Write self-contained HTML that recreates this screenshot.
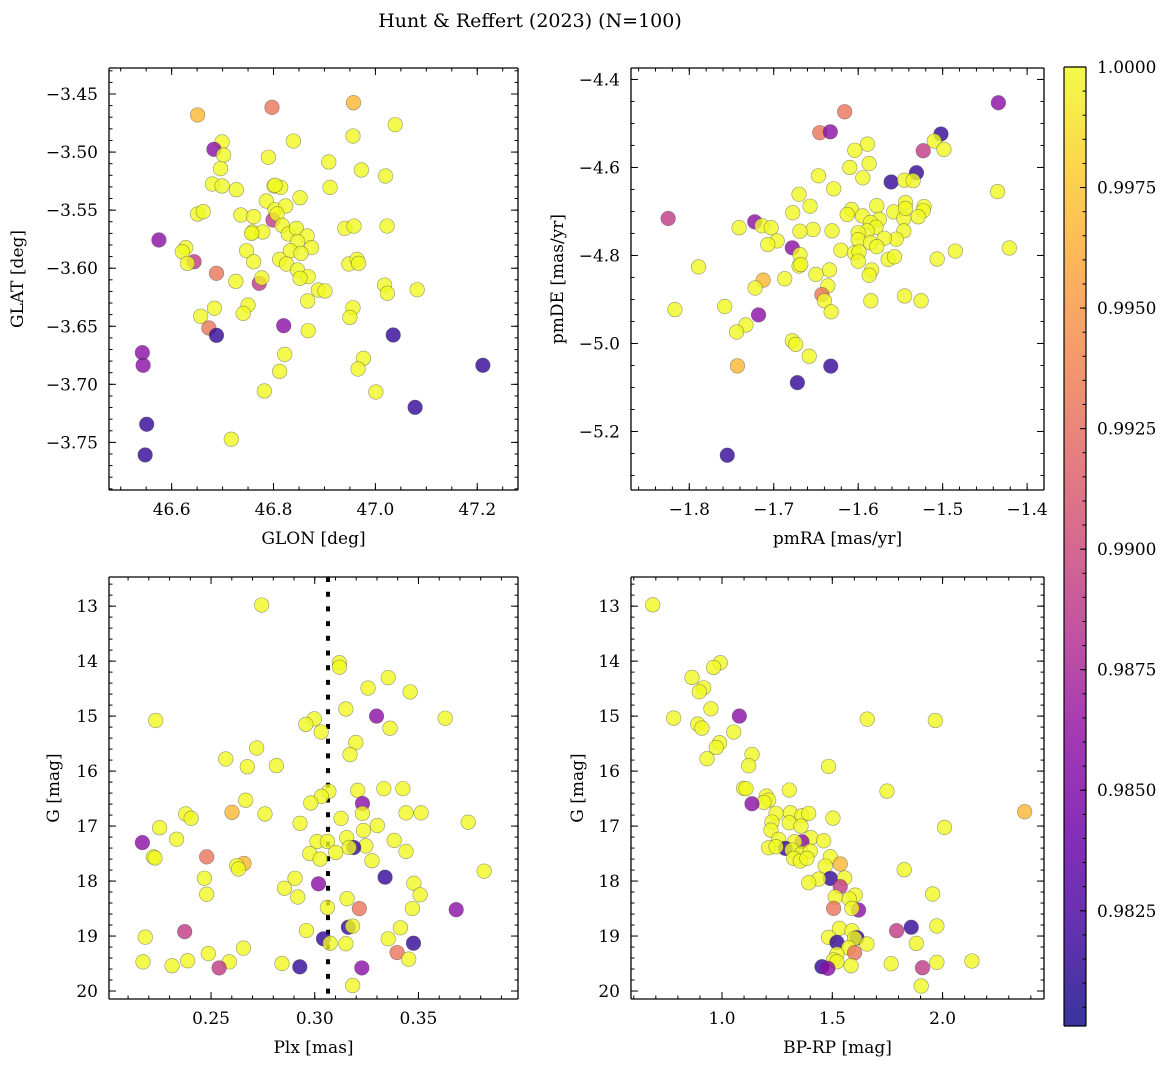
<!DOCTYPE html>
<html><head><meta charset="utf-8"><style>
html,body{margin:0;padding:0;background:#fff}
svg text{font-family:"DejaVu Serif","Liberation Serif",serif;fill:#000}
</style></head><body>
<svg id="fig" width="1173" height="1067" viewBox="0 0 1173 1067" xmlns="http://www.w3.org/2000/svg">
<defs id="defs"></defs>
<rect width="1173" height="1067" fill="#fff"/>
<text x="530" y="27" font-size="19" text-anchor="middle">Hunt &amp; Reffert (2023) (N=100)</text>
</svg>
<script>
// ---- Panel 1: GLON vs GLAT ----
const glon=[46.651,46.797,46.957,47.039,46.956,46.839,46.699,46.683,46.702,46.790,46.9085,46.696,46.9725,47.020,46.680,46.699,46.727,46.801,46.814,46.803,46.786,46.852,46.911,46.803,46.824,46.799,46.807,46.651,46.662,46.736,46.761,46.817,46.829,46.845,46.759,46.779,46.757,46.940,46.958,47.023,46.575,46.866,46.847,46.8745,46.6275,46.621,46.747,46.833,46.854,46.812,46.8255,46.761,46.644,46.631,46.948,46.964,46.967,46.847,46.868,46.852,46.688,46.726,46.772,46.777,46.888,46.901,47.018,47.0235,47.082,46.867,46.750,46.7405,46.684,46.657,46.956,46.950,46.820,46.868,46.673,46.688,47.035,46.5425,46.544,46.822,46.9765,46.966,46.812,47.211,46.782,47.001,47.078,46.551,46.717,46.548];
const glat=[-3.468,-3.4615,-3.4575,-3.4764,-3.4862,-3.4905,-3.4913,-3.4976,-3.5025,-3.5045,-3.5085,-3.5143,-3.5154,-3.5206,-3.5275,-3.5292,-3.5324,-3.5292,-3.5304,-3.5286,-3.5421,-3.5393,-3.5304,-3.5496,-3.5464,-3.5585,-3.5533,-3.5533,-3.5513,-3.5542,-3.5556,-3.5631,-3.5705,-3.5657,-3.5688,-3.5688,-3.57,-3.5657,-3.5637,-3.5637,-3.5757,-3.5723,-3.5771,-3.5823,-3.5823,-3.5858,-3.5849,-3.585,-3.5872,-3.5924,-3.5964,-3.5944,-3.5944,-3.5958,-3.5964,-3.5924,-3.5958,-3.6015,-3.6073,-3.6087,-3.6044,-3.6113,-3.613,-3.6084,-3.6188,-3.6196,-3.6145,-3.6216,-3.6185,-3.6282,-3.6317,-3.6389,-3.6345,-3.6414,-3.634,-3.6423,-3.6495,-3.6538,-3.6515,-3.6578,-3.6575,-3.6727,-3.6836,-3.6742,-3.6776,-3.6868,-3.6888,-3.6836,-3.7057,-3.7066,-3.7198,-3.7344,-3.7473,-3.7608];
const prob1=[.9968,.993,.9968,1,1,1,1,.9858,1,1, 1,1,1,1,1,1,1,1,1,1, 1,1,1,1,1,.989,1,1,1,1, 1,1,1,1,1,1,1,1,1,1, .9858,1,1,1,1,1,1,1,1,1, 1,1,.989,1,1,1,1,1,1,1, .993,1,.989,1,1,1,1,1,1,1, 1,1,1,1,1,1,.9858,1,.993,.9815, .9815,.9858,.9858,1,1,1,1,.9815,1,1, .9815,.9815,1,.9815];
const p1xTicks=[46.6,46.8,47.0,47.2];
const p1yTicks=[-3.45,-3.50,-3.55,-3.60,-3.65,-3.70,-3.75];
// ---- Panel 2: pmRA vs pmDE ----
const pmra=[-1.434,-1.502,-1.616,-1.6455,-1.633,-1.510,-1.4985,-1.523,-1.589,-1.604,-1.587,-1.610,-1.5945,-1.647,-1.629,-1.531,-1.561,-1.545,-1.535,-1.435,-1.670,-1.657,-1.6775,-1.578,-1.544,-1.522,-1.523,-1.529,-1.558,-1.546,-1.544,-1.608,-1.613,-1.595,-1.575,-1.5855,-1.579,-1.546,-1.555,-1.569,-1.5895,-1.600,-1.600,-1.5855,-1.578,-1.6535,-1.631,-1.669,-1.825,-1.7225,-1.714,-1.703,-1.741,-1.696,-1.707,-1.678,-1.669,-1.6205,-1.6045,-1.599,-1.600,-1.5645,-1.557,-1.5065,-1.485,-1.421,-1.670,-1.668,-1.789,-1.634,-1.650,-1.584,-1.587,-1.687,-1.7125,-1.722,-1.636,-1.643,-1.640,-1.632,-1.545,-1.5255,-1.585,-1.817,-1.758,-1.733,-1.744,-1.718,-1.678,-1.674,-1.658,-1.743,-1.6325,-1.672,-1.755];
const pmde=[-4.453,-4.524,-4.4735,-4.521,-4.519,-4.540,-4.559,-4.562,-4.547,-4.561,-4.591,-4.600,-4.6235,-4.619,-4.6485,-4.612,-4.633,-4.629,-4.630,-4.655,-4.661,-4.688,-4.703,-4.687,-4.680,-4.689,-4.6985,-4.712,-4.701,-4.716,-4.693,-4.6955,-4.707,-4.710,-4.718,-4.725,-4.736,-4.744,-4.763,-4.761,-4.744,-4.7485,-4.764,-4.771,-4.780,-4.741,-4.744,-4.745,-4.716,-4.7235,-4.7325,-4.737,-4.737,-4.767,-4.775,-4.7826,-4.798,-4.788,-4.794,-4.792,-4.813,-4.809,-4.803,-4.808,-4.790,-4.783,-4.824,-4.8205,-4.826,-4.833,-4.843,-4.833,-4.845,-4.853,-4.856,-4.874,-4.869,-4.889,-4.903,-4.928,-4.892,-4.903,-4.903,-4.923,-4.916,-4.958,-4.974,-4.935,-4.994,-5.002,-5.029,-5.051,-5.0515,-5.089,-5.254];
const prob2=[.9858,.9815,.993,.993,.9858,1,1,.989,1,1, 1,1,1,1,1,.9815,.9815,1,1,1, 1,1,1,1,1,1,1,1,1,1, 1,1,1,1,1,1,1,1,1,1, 1,1,1,1,1,1,1,1,.989,.9858, 1,1,1,1,1,.9858,1,1,1,1, 1,1,1,1,1,1,1,1,1,1, 1,1,1,1,.9968,1,1,.993,1,1, 1,1,1,1,1,1,1,.9858,1,1, 1,.9968,.9815,.9815,.9815];
const p2xTicks=[-1.8,-1.7,-1.6,-1.5,-1.4];
const p2yTicks=[-4.4,-4.6,-4.8,-5.0,-5.2];
// ---- Panel 3: Plx vs G ----
const plx=[0.2744,0.3119,0.3119,0.3354,0.3257,0.346,0.315,0.3298,0.3629,0.2233,0.2998,0.2957,0.3031,0.3363,0.3198,0.317,0.272,0.2571,0.2675,0.2815,0.3333,0.3425,0.3207,0.3068,0.3032,0.2981,0.2667,0.323,0.323,0.344,0.3513,0.2601,0.2378,0.2404,0.276,0.3127,0.374,0.2929,0.3302,0.2252,0.3235,0.3154,0.3011,0.3061,0.3383,0.2334,0.2169,0.3246,0.3188,0.3166,0.344,0.3101,0.2976,0.3026,0.2222,0.223,0.2479,0.3276,0.2659,0.2624,0.2632,0.3817,0.3339,0.2905,0.2468,0.3018,0.3478,0.2854,0.2479,0.2918,0.3508,0.3156,0.3061,0.3215,0.3471,0.3682,0.3162,0.3182,0.3413,0.2373,0.296,0.2183,0.3042,0.3074,0.315,0.3354,0.3476,0.2487,0.2656,0.3397,0.3453,0.2172,0.2312,0.2387,0.2588,0.2539,0.2842,0.2928,0.3227,0.3183];
const gmag3=[12.98,14.03,14.11,14.30,14.49,14.56,14.87,15.0,15.04,15.08,15.05,15.15,15.29,15.22,15.48,15.7,15.58,15.78,15.92,15.9,16.32,16.32,16.35,16.37,16.46,16.58,16.53,16.59,16.77,16.76,16.76,16.75,16.78,16.86,16.78,16.86,16.93,16.95,16.99,17.03,17.08,17.21,17.28,17.28,17.26,17.24,17.30,17.36,17.39,17.39,17.46,17.48,17.5,17.6,17.56,17.58,17.56,17.63,17.68,17.72,17.78,17.82,17.93,17.95,17.95,18.05,18.04,18.13,18.24,18.29,18.25,18.32,18.48,18.5,18.5,18.52,18.84,18.82,18.85,18.92,18.9,19.02,19.05,19.13,19.14,19.05,19.13,19.32,19.22,19.3,19.42,19.47,19.54,19.45,19.47,19.58,19.5,19.56,19.58,19.9];
const prob3=[1,1,1,1,1,1,1,.9858,1,1, 1,1,1,1,1,1,1,1,1,1, 1,1,1,1,1,1,1,.9858,1,1, 1,.9968,1,1,1,1,1,1,1,1, 1,1,1,1,1,1,.9858,1,.9815,1, 1,1,1,1,1,1,.993,1,.9968,1, 1,1,.9815,1,1,.9858,1,1,1,1, 1,1,1,.993,1,.9858,.9815,1,1,.989, 1,1,.9815,1,1,1,.9815,1,1,.993, 1,1,1,1,1,.989,1,.9815,.9858,1];
const meanPlx=[0.3064];
const p3xTicks=[0.25,0.30,0.35];
const gTicks=[13,14,15,16,17,18,19,20];
// ---- Panel 4: BP-RP vs G ----
const bprp=[0.686,0.992,0.962,0.864,0.917,0.897,0.950,0.781,1.0786,1.6586,1.967,0.890,0.909,1.053,0.989,0.974,0.932,1.136,1.121,1.483,1.098,1.109,1.305,1.748,1.201,1.2115,1.190,1.136,1.245,1.310,1.3625,1.393,1.503,2.372,1.2266,1.305,1.358,2.009,1.222,1.257,1.403,1.461,1.3625,1.329,1.287,1.2115,1.245,1.317,1.3625,1.400,1.325,1.355,1.385,1.491,1.536,1.468,1.826,1.491,1.438,1.393,1.556,1.536,1.955,1.5136,1.604,1.577,1.506,1.619,1.589,1.532,1.858,1.7916,1.974,1.589,1.612,1.601,1.483,1.521,1.657,1.881,1.574,1.601,1.521,1.506,1.521,1.453,1.480,1.585,1.767,1.909,1.974,2.133,1.903];
const gmag4=[12.976,14.03,14.115,14.297,14.485,14.558,14.867,15.036,15.0,15.055,15.079,15.145,15.218,15.29,15.485,15.57,15.776,15.697,15.903,15.915,16.315,16.32,16.345,16.364,16.455,16.527,16.57,16.594,16.77,16.758,16.812,16.77,16.855,16.74,16.927,16.94,17.0,17.024,17.073,17.242,17.212,17.267,17.285,17.285,17.406,17.394,17.376,17.436,17.497,17.455,17.588,17.636,17.588,17.558,17.69,17.727,17.794,17.952,17.964,18.03,17.945,18.103,18.236,18.29,18.255,18.327,18.497,18.527,18.497,18.86,18.84,18.903,18.818,18.903,19.03,19.042,19.024,19.115,19.145,19.133,19.212,19.303,19.327,19.436,19.467,19.558,19.588,19.54,19.503,19.576,19.479,19.455,19.909];
const prob4=[1,1,1,1,1,1,1,1,.9858,1, 1,1,1,1,1,1,1,1,1,1, 1,1,1,1,1,1,1,.9858,1,1, 1,1,1,.9968,1,1,1,1,1,1, 1,1,.9858,1,.9815,1,1,1,1,1, 1,1,1,1,.9968,1,1,.9815,1,1, 1,.989,1,1,1,1,.993,.9858,1,1, .9815,.989,1,1,.9815,1,1,.9815,1,1, 1,.993,1,1,1,.9815,.9858,1,1,.989, 1,1,1];
const p4xTicks=[1.0,1.5,2.0];
// ---- Colorbar ----
const cbTicks=[0.9825,0.9850,0.9875,0.9900,0.9925,0.9950,0.9975,1.0000];
const cbRange=[0.98011,1.0];

const NS='http://www.w3.org/2000/svg';
const svg=document.getElementById('fig');
const defs=document.getElementById('defs');
function mk(tag,attrs,parent){const e=document.createElementNS(NS,tag);for(const k in attrs)e.setAttribute(k,String(attrs[k]));(parent||svg).appendChild(e);return e;}
function ln(x1,y1,x2,y2,w,parent){return mk('line',{x1:x1,y1:y1,x2:x2,y2:y2,stroke:'#000','stroke-width':w},parent);}
const stops=['#0d0887','#41049d','#6a00a8','#8f0da4','#b12a90','#cc4778','#e16462','#f2844b','#fca636','#fcce25','#f0f921'];
function hex(h){return [parseInt(h.slice(1,3),16),parseInt(h.slice(3,5),16),parseInt(h.slice(5,7),16)];}
function plasma(t){t=Math.max(0,Math.min(1,t));const f=t*10,i=Math.min(9,Math.floor(f)),u=f-i;const a=hex(stops[i]),b=hex(stops[i+1]);return 'rgb('+a.map((v,k)=>Math.round(v+(b[k]-v)*u)).join(',')+')';}
function cval(p){return plasma((p-cbRange[0])/(cbRange[1]-cbRange[0]));}
function fmt(v,d){const s=Math.abs(v).toFixed(d);return (v<-1e-9?'\u2212':'')+s;}

function panel(o){
  const g=mk('g',{});
  
  
  const L=o.box[0],T=o.box[1],R=o.box[2],B=o.box[3];
  const sx=v=>L+(v-o.xlim[0])/(o.xlim[1]-o.xlim[0])*(R-L);
  const sy=v=>T+(v-o.ylim[0])/(o.ylim[1]-o.ylim[0])*(B-T);
  const clip='clip-'+o.name;
  const cp=mk('clipPath',{id:clip},defs);mk('rect',{x:L,y:T,width:R-L,height:B-T},cp);
  const pts=mk('g',{'clip-path':'url(#'+clip+')'},g);
  
  
  if(o.vline){const vl=mk('line',{x1:sx(o.vline),x2:sx(o.vline),y1:T,y2:B,stroke:'#000','stroke-width':4,'stroke-dasharray':'5 9.7'},pts);
    
    }
  for(let i=0;i<o.x.length;i++){
    const c=mk('circle',{cx:sx(o.x[i]),cy:sy(o.y[i]),r:7.3,fill:cval(o.c[i]),'fill-opacity':0.8,stroke:'rgba(70,70,70,0.55)','stroke-width':0.6},pts);
    
    
  }
  const tk=mk('g',{},g);
  const xlo=Math.min(o.xlim[0],o.xlim[1]),xhi=Math.max(o.xlim[0],o.xlim[1]);
  const ylo=Math.min(o.ylim[0],o.ylim[1]),yhi=Math.max(o.ylim[0],o.ylim[1]);
  for(let k=Math.ceil(xlo/o.xminor);k*o.xminor<=xhi;k++){const x=sx(k*o.xminor);ln(x,B,x,B-3.5,1,tk);ln(x,T,x,T+3.5,1,tk);}
  for(let k=Math.ceil(ylo/o.yminor);k*o.yminor<=yhi;k++){const y=sy(k*o.yminor);ln(L,y,L+3.5,y,1,tk);ln(R,y,R-3.5,y,1,tk);}
  o.xt.forEach(v=>{const x=sx(v);ln(x,B,x,B-7,1,tk);ln(x,T,x,T+7,1,tk);
    const t=mk('text',{x:x,y:B+25,'font-size':17,'text-anchor':'middle'},g);t.textContent=fmt(v,o.xd);
    
    });
  o.yt.forEach(v=>{const y=sy(v);ln(L,y,L+7,y,1,tk);ln(R,y,R-7,y,1,tk);
    const t=mk('text',{x:L-11,y:y+6,'font-size':17,'text-anchor':'end'},g);t.textContent=fmt(v,o.yd);
    
    });
  ln(L,T,R,T,1.3,g);ln(R,T,R,B,1.3,g);ln(L,B,R,B,1.3,g);ln(L,T,L,B,1.3,g);
  const xl=mk('text',{x:(L+R)/2,y:B+54,'font-size':17,'text-anchor':'middle'},g);xl.textContent=o.xlabel;
  
  
  const yx=o.ylx,yc=(T+B)/2;
  const yl=mk('text',{x:yx,y:yc,'font-size':17,'text-anchor':'middle',transform:'rotate(-90 '+yx+' '+yc+')'},g);yl.textContent=o.ylabel;
  
  
}
panel({name:'glon-glat-panel',box:[109,68,518,490],xlim:[46.477,47.280],ylim:[-3.4276,-3.791],x:glon,y:glat,c:prob1,xt:p1xTicks,yt:p1yTicks,xminor:0.05,yminor:0.01,xd:1,yd:2,xlabel:'GLON [deg]',ylabel:'GLAT [deg]',ylx:23});
panel({name:'proper-motion-panel',box:[631,68,1044,490],xlim:[-1.869,-1.38],ylim:[-4.374,-5.333],x:pmra,y:pmde,c:prob2,xt:p2xTicks,yt:p2yTicks,xminor:0.02,yminor:0.05,xd:1,yd:1,xlabel:'pmRA [mas/yr]',ylabel:'pmDE [mas/yr]',ylx:563});
panel({name:'plx-g-panel',box:[109,577,518,999],xlim:[0.2008,0.398],ylim:[12.47,20.145],x:plx,y:gmag3,c:prob3,xt:p3xTicks,yt:gTicks,xminor:0.01,yminor:0.2,xd:2,yd:0,xlabel:'Plx [mas]',ylabel:'G [mag]',ylx:59,vline:meanPlx[0]});
panel({name:'cmd-panel',box:[631,577,1044,999],xlim:[0.5875,2.4597],ylim:[12.47,20.145],x:bprp,y:gmag4,c:prob4,xt:p4xTicks,yt:gTicks,xminor:0.1,yminor:0.2,xd:1,yd:0,xlabel:'BP-RP [mag]',ylabel:'G [mag]',ylx:583});

// colorbar
(function(){
  const L=1064,R=1086,T=67,B=1026;
  const g=mk('g',{});
  
  
  const lg=mk('linearGradient',{id:'cbg',x1:0,y1:1,x2:0,y2:0},defs);
  for(let k=0;k<=10;k++)mk('stop',{offset:k/10,'stop-color':stops[k]},lg);
  mk('rect',{x:L,y:T,width:R-L,height:B-T,fill:'url(#cbg)','fill-opacity':0.82},g);
  const sy=v=>B-(v-cbRange[0])/(cbRange[1]-cbRange[0])*(B-T);
  for(let k=1961;k<=2000;k++){const y=sy(k*0.0005);ln(R,y,R-3.5,y,1,g);}
  cbTicks.forEach(v=>{const y=sy(v);ln(R,y,R-6,y,1,g);
    const t=mk('text',{x:R+11,y:y+6,'font-size':17},g);t.textContent=v.toFixed(4);
    
    });
  ln(L,T,R,T,1.2,g);ln(R,T,R,B,1.2,g);ln(L,B,R,B,1.2,g);ln(L,T,L,B,1.2,g);
})();
</script>
</body></html>
